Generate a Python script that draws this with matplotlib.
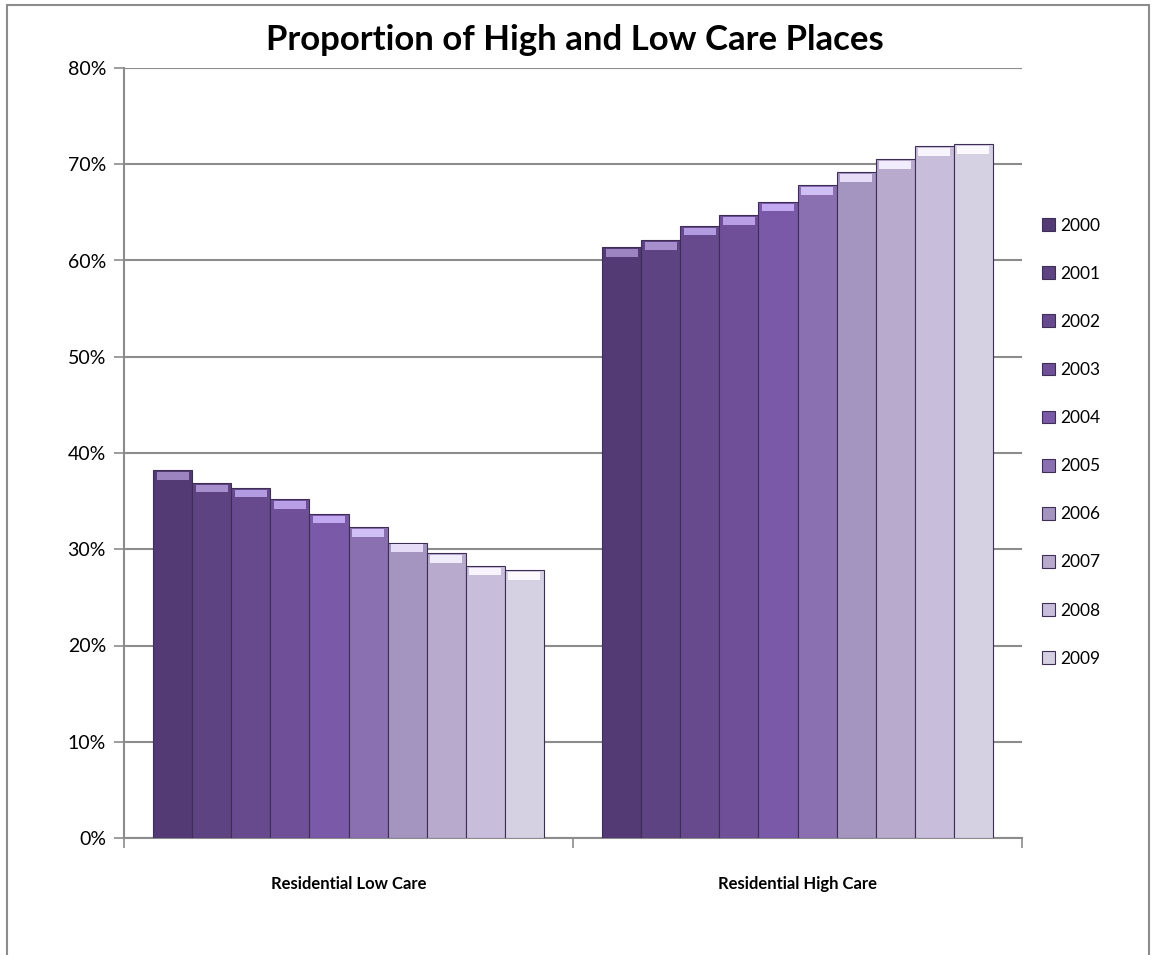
import numpy as np
import matplotlib
matplotlib.use("Agg")
import matplotlib.pyplot as plt
from matplotlib.patches import Rectangle
from matplotlib.ticker import PercentFormatter

# data
categories = ["Residential Low Care", "Residential High Care"]
years = ["2000", "2001", "2002", "2003", "2004", "2005", "2006", "2007", "2008", "2009"]
low_care = [38.2, 36.9, 36.4, 35.2, 33.7, 32.3, 30.7, 29.6, 28.3, 27.8]
high_care = [61.4, 62.1, 63.6, 64.7, 66.1, 67.8, 69.2, 70.5, 71.9, 72.1]
colors = ["#533a74", "#5d4381", "#674a8e", "#6f5098", "#7a59a8", "#8a70b0",
          "#a494c0", "#b8aacc", "#c8bedb", "#d6d0e3"]
highlights = ["#9c84c0", "#a68fcc", "#b29be0", "#b89fe6", "#c2a8f0", "#d0bff5",
              "#e6dcf8", "#f1ecfc", "#f7f4fd", "#fbf9fe"]

plt.rcParams["font.family"] = ["Lato", "DejaVu Sans"]

fig = plt.figure(figsize=(11.56, 9.55), dpi=100)
fig.patches.append(Rectangle((7 / 1156, -0.05), 1142 / 1156, 1.05 - 5 / 955,
                             transform=fig.transFigure, fill=False,
                             edgecolor="#8c8c8c", linewidth=1.5))

ax = fig.add_axes([124 / 1156, (955 - 838) / 955, 898 / 1156, 770 / 955])

n = len(years)
bw = 0.869 / n
x = np.arange(len(categories))
values = np.array([low_care, high_care])
for i, yr in enumerate(years):
    xs = x - 0.869 / 2 + bw * (i + 0.5)
    ax.bar(xs, values[:, i], width=bw, color=colors[i], edgecolor="#3e2d55",
           linewidth=0.8, label=yr, zorder=3)
    # bevel highlight at the top of each bar
    ax.bar(xs, [0.8, 0.8], bottom=values[:, i] - 1.0, width=bw * 0.8,
           color=highlights[i], linewidth=0, zorder=4)

ax.set_xlim(-0.5, 1.5)
ax.set_ylim(0, 80)
ax.set_yticks(np.arange(0, 81, 10))
ax.yaxis.set_major_formatter(PercentFormatter(decimals=0))
ax.grid(axis="y", color="#8c8c8c", linewidth=1.5, zorder=0)
ax.set_axisbelow(True)

ax.set_xticks(x)
ax.set_xticklabels(categories, fontweight="bold", fontsize=12)
ax.set_xticks([-0.5, 0.5, 1.5], minor=True)
ax.tick_params(axis="x", which="major", length=0, pad=27)
ax.tick_params(axis="x", which="minor", length=7, color="#8c8c8c", width=1.2)
ax.tick_params(axis="y", length=7, color="#8c8c8c", width=1.2, labelsize=14, pad=6)

for side in ["top", "right"]:
    ax.spines[side].set_visible(False)
for side in ["left", "bottom"]:
    ax.spines[side].set_color("#8c8c8c")
    ax.spines[side].set_linewidth(1.5)

fig.text(575 / 1156, 1 - 40 / 955, "Proportion of High and Low Care Places",
         ha="center", va="center", fontsize=25, fontweight="bold")

ax.legend(loc="upper left", bbox_to_anchor=(1026 / 1156, 1 - 202 / 955),
          bbox_transform=fig.transFigure, frameon=False, fontsize=12.5,
          handlelength=0.75, handleheight=0.75, handletextpad=0.3,
          labelspacing=1.85)

fig.savefig("out.png", dpi=100)
